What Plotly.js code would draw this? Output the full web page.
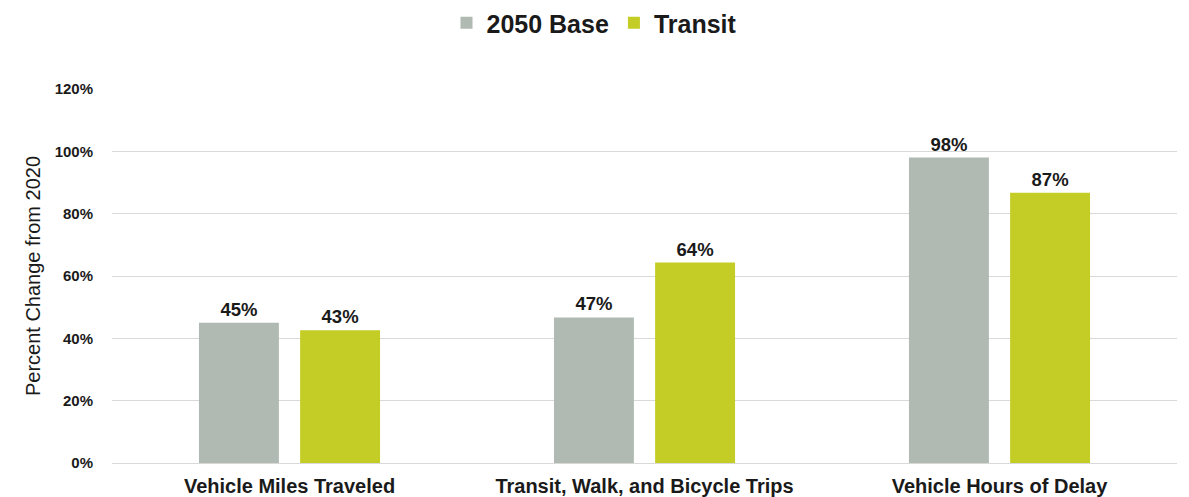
<!DOCTYPE html>
<html><head><meta charset="utf-8">
<script src="https://cdn.plot.ly/plotly-3.0.1.min.js"></script>
<style>html,body{margin:0;padding:0;background:#fff}#chart{width:1189px;height:497px}</style>
</head><body><div id="chart"></div>
<script>
const categories = ["Vehicle Miles Traveled", "Transit, Walk, and Bicycle Trips", "Vehicle Hours of Delay"];
const base2050 = [45, 46.7, 98];
const transit = [42.6, 64.3, 86.7];
const baseLabels = ["45%", "47%", "98%"];
const transitLabels = ["43%", "64%", "87%"];
const yTickVals = [0, 20, 40, 60, 80, 100, 120];
const yTickText = ["0%", "20%", "40%", "60%", "80%", "100%", "120%"];

const font = "Liberation Sans, Arial, sans-serif";
const traces = [
  {type: "bar", name: "2050 Base", x: categories, y: base2050, text: baseLabels,
   textposition: "outside", cliponaxis: false,
   textfont: {family: font, size: 18.5, color: "#1a1a1a", weight: "bold"},
   marker: {color: "#b0b9b2"}},
  {type: "bar", name: "Transit", x: categories, y: transit, text: transitLabels,
   textposition: "outside", cliponaxis: false,
   textfont: {family: font, size: 18.5, color: "#1a1a1a", weight: "bold"},
   marker: {color: "#c3cd25"}}
];
const layout = {
  width: 1189, height: 497,
  margin: {l: 112, r: 12, t: 89, b: 34},
  paper_bgcolor: "#fff", plot_bgcolor: "#fff",
  font: {family: font, color: "#1a1a1a"},
  barmode: "group", bargap: 0.43, bargroupgap: 0.21,
  showlegend: true,
  legend: {orientation: "h", x: 0.5, xref: "container", xanchor: "center", y: 1, yref: "container", yanchor: "top",
           font: {family: font, size: 25, color: "#1a1a1a", weight: "bold"}, itemwidth: 30},
  xaxis: {tickfont: {family: font, size: 20, color: "#1a1a1a", weight: "bold"},
          showline: false, ticks: "", fixedrange: true, ticklabelstandoff: 9},
  yaxis: {range: [0, 120], tickvals: yTickVals, ticktext: yTickText,
          tickfont: {family: font, size: 15, color: "#1a1a1a", weight: "bold"},
          gridcolor: "#d9d9d9", gridwidth: 1, zeroline: true, zerolinecolor: "#d9d9d9",
          ticks: "outside", ticklen: 15, tickcolor: "rgba(0,0,0,0)",
          title: {text: "Percent Change from 2020", font: {family: font, size: 20, color: "#1a1a1a"}, standoff: 8}}
};
Plotly.newPlot("chart", traces, layout, {displayModeBar: false, staticPlot: true});
</script></body></html>
